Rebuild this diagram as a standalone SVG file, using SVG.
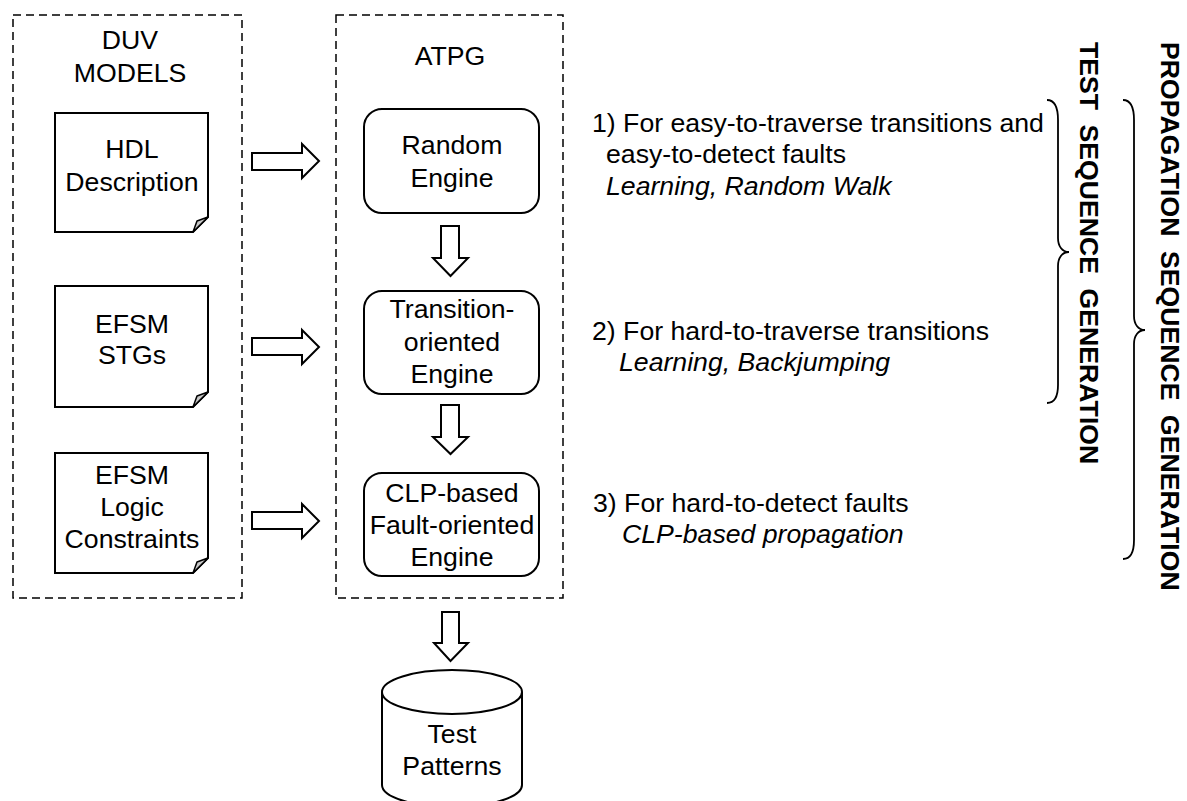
<svg xmlns="http://www.w3.org/2000/svg" width="1187" height="801" viewBox="0 0 1187 801">
<style>
text{font-family:"Liberation Sans",Arial,sans-serif;font-size:26.67px;fill:#000}
.c{text-anchor:middle}
.i{font-style:italic}
.b{font-weight:bold;word-spacing:7px}
.dash{fill:none;stroke:#000;stroke-width:1.5;stroke-dasharray:8 5}
.box{fill:#fff;stroke:#000;stroke-width:2}
.fold{fill:#c8c8c8;stroke:#000;stroke-width:1.5;stroke-linejoin:round}
.arr{fill:#fff;stroke:#000;stroke-width:2;stroke-linejoin:miter}
.brace{fill:none;stroke:#000;stroke-width:1.8}
</style>
<rect width="1187" height="801" fill="#fff"/>
<g id="duv-models">
<rect class="dash" x="13" y="15" width="229" height="583"/>
<text class="c" x="130" y="49">DUV</text>
<text class="c" x="130" y="82">MODELS</text>
</g>
<g id="hdl">
<path class="box" d="M55,113 H208 V217 L193,232 H55 Z"/>
<path class="fold" d="M208,217 L197,221 L193,232 Z"/>
<text class="c" x="132" y="158">HDL</text>
<text class="c" x="132" y="191">Description</text>
</g>
<g id="efsm-stgs">
<path class="box" d="M55,286 H208 V392 L193,407 H55 Z"/>
<path class="fold" d="M208,392 L197,396 L193,407 Z"/>
<text class="c" x="132" y="333">EFSM</text>
<text class="c" x="132" y="364">STGs</text>
</g>
<g id="efsm-logic">
<path class="box" d="M55,453 H208 V558 L193,573 H55 Z"/>
<path class="fold" d="M208,558 L197,562 L193,573 Z"/>
<text class="c" x="132" y="484">EFSM</text>
<text class="c" x="132" y="516">Logic</text>
<text class="c" x="132" y="548">Constraints</text>
</g>
<g id="atpg">
<rect class="dash" x="336" y="15" width="227" height="583"/>
<text class="c" x="450" y="65">ATPG</text>
</g>
<g id="random-engine">
<rect class="box" x="364" y="109" width="175" height="104" rx="18"/>
<text class="c" x="452" y="154">Random</text>
<text class="c" x="452" y="187">Engine</text>
</g>
<g id="transition-engine">
<rect class="box" x="364" y="291" width="175" height="103" rx="18"/>
<text class="c" x="452" y="318">Transition-</text>
<text class="c" x="452" y="351">oriented</text>
<text class="c" x="452" y="383">Engine</text>
</g>
<g id="clp-engine">
<rect class="box" x="364" y="473" width="175" height="103" rx="18"/>
<text class="c" x="452" y="502">CLP-based</text>
<text class="c" x="452" y="534">Fault-oriented</text>
<text class="c" x="452" y="566">Engine</text>
</g>
<g id="test-patterns">
<path class="box" d="M382,692 V785 A70,22 0 0 0 522,785 V692"/>
<ellipse class="box" cx="452" cy="692" rx="70" ry="22"/>
<text class="c" x="452" y="743">Test</text>
<text class="c" x="452" y="775">Patterns</text>
</g>
<g id="connectors">
<polygon class="arr" points="252,153 302,153 302,144 319,161 302,178 302,170 252,170"/>
<polygon class="arr" points="252,338 302,338 302,330 319,347 302,364 302,355 252,355"/>
<polygon class="arr" points="252,512 302,512 302,504 319,521 302,538 302,529 252,529"/>
<polygon class="arr" points="441,226 459,226 459,258 468,258 450.5,276 433,258 441,258"/>
<polygon class="arr" points="441,405 459,405 459,437 468,437 450.5,454 433,437 441,437"/>
<polygon class="arr" points="442,612 459,612 459,643 468,643 450.5,661 434,643 442,643"/>
</g>
<g id="notes">
<text x="592" y="132">1) For easy-to-traverse transitions and</text>
<text x="606" y="163">easy-to-detect faults</text>
<text class="i" x="606" y="195">Learning, Random Walk</text>
<text x="592" y="340">2) For hard-to-traverse transitions</text>
<text class="i" x="619" y="371">Learning, Backjumping</text>
<text x="593" y="512">3) For hard-to-detect faults</text>
<text class="i" x="622" y="543">CLP-based propagation</text>
</g>
<g id="braces">
<path class="brace" d="M1047,100 C1055,100 1058,108 1058,120 L1058,238 C1058,246 1062,252 1069,252 C1062,252 1058,258 1058,266 L1058,385 C1058,396 1055,403 1047,403"/>
<path class="brace" d="M1123,100 C1131,100 1134,108 1134,120 L1134,316 C1134,324 1138,330 1145,330 C1138,330 1134,336 1134,344 L1134,540 C1134,552 1131,559 1123,559"/>
<text class="b" transform="translate(1080,42) rotate(90)">TEST SEQUENCE GENERATION</text>
<text class="b" transform="translate(1161,42) rotate(90)">PROPAGATION SEQUENCE GENERATION</text>
</g>
</svg>
